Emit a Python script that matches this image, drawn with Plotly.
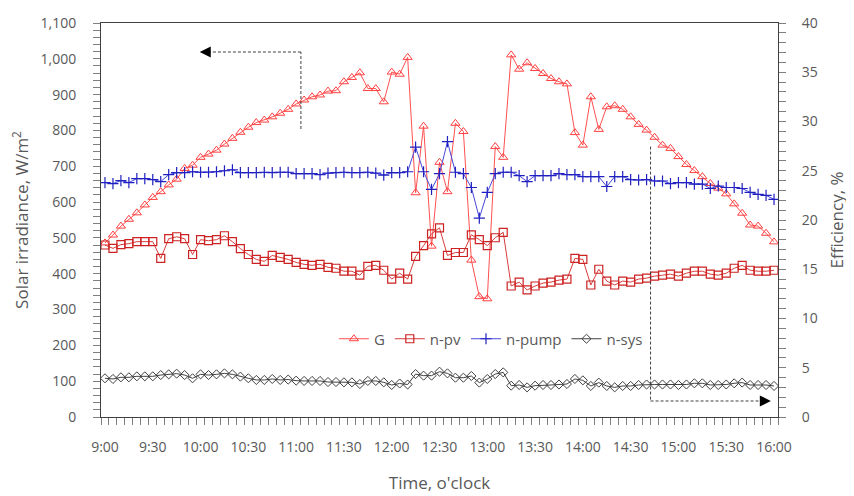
import plotly.graph_objects as go

# 5-minute categories from 9:00 to 16:00
times = [f"{9 + m // 60}:{m % 60:02d}" for m in range(0, 425, 5)]
label_times = ["9:00", "9:30", "10:00", "10:30", "11:00", "11:30", "12:00", "12:30",
               "13:00", "13:30", "14:00", "14:30", "15:00", "15:30", "16:00"]

G = [486, 508, 533, 552, 570, 592, 613, 629, 648, 664, 694, 703, 725, 734, 745, 762, 778,
     795, 809, 822, 829, 838, 848, 859, 874, 885, 894, 899, 910, 911, 936, 948, 961, 917,
     917, 880, 963, 957, 1004, 626, 812, 477, 711, 629, 820, 797, 438, 336, 330, 755, 725,
     1011, 971, 989, 973, 959, 945, 936, 930, 794, 759, 894, 803, 866, 869, 859, 838, 817,
     801, 781, 759, 750, 727, 705, 688, 671, 652, 639, 623, 595, 569, 536, 533, 513, 489]

n_pv = [17.46, 17.12, 17.5, 17.6, 17.8, 17.8, 17.8, 16.1, 18.1, 18.3,
        18.1, 16.5, 18.0, 17.9, 18.0, 18.4, 17.8, 17.1, 16.5, 16.0,
        15.8, 16.4, 16.2, 16.0, 15.7, 15.5, 15.4, 15.5, 15.2, 15.1,
        14.8, 14.8, 14.4, 15.3, 15.4, 14.9, 14.0, 14.6, 14.0, 16.3,
        17.4, 18.6, 19.2, 16.4, 16.7, 16.7, 18.5, 18.0, 17.4, 18.2,
        18.75, 13.3, 13.7, 12.9, 13.3, 13.6, 13.7, 13.9, 14.0, 16.1,
        16.0, 13.4, 15.0, 13.8, 13.4, 13.8, 13.7, 14.0, 14.1, 14.3,
        14.4, 14.5, 14.3, 14.6, 14.8, 14.8, 14.5, 14.4, 14.6, 15.1,
        15.4, 14.9, 14.8, 14.8, 14.9]

n_pump = [23.8, 23.7, 24.0, 23.8, 24.2, 24.2, 24.1, 23.9, 24.6, 24.8,
          24.8, 24.9, 24.85, 24.85, 24.9, 25.0, 25.1, 24.8, 24.8, 24.8,
          24.85, 24.8, 24.85, 24.85, 24.7, 24.7, 24.7, 24.6, 24.75, 24.8,
          24.85, 24.8, 24.8, 24.85, 24.75, 24.55, 24.8, 24.8, 24.9, 27.4,
          24.9, 23.1, 24.7, 27.95, 24.85, 24.7, 23.3, 20.2, 22.8, 24.7,
          24.85, 24.85, 24.5, 23.9, 24.5, 24.5, 24.5, 24.7, 24.6, 24.6,
          24.4, 24.4, 24.4, 23.4, 24.4, 24.4, 24.1, 24.06, 24.1, 23.96,
          23.96, 23.7, 23.8, 23.8, 23.65, 23.65, 23.2, 23.45, 23.3, 23.3,
          23.2, 22.8, 22.6, 22.5, 22.1]

n_sys = [3.93, 3.86, 4.03, 4.03, 4.13, 4.13, 4.13, 4.26, 4.33, 4.4,
         4.26, 3.93, 4.33, 4.26, 4.33, 4.43, 4.33, 4.1, 3.93, 3.76,
         3.76, 3.86, 3.76, 3.8, 3.69, 3.66, 3.66, 3.66, 3.55, 3.55,
         3.52, 3.52, 3.35, 3.66, 3.66, 3.52, 3.25, 3.4, 3.3, 4.36,
         4.2, 4.2, 4.6, 4.43, 3.99, 3.99, 4.16, 3.49, 3.86, 4.36,
         4.53, 3.18, 3.25, 3.01, 3.18, 3.25, 3.25, 3.3, 3.35, 3.86,
         3.72, 3.15, 3.49, 3.15, 3.01, 3.15, 3.15, 3.25, 3.3, 3.3,
         3.3, 3.3, 3.25, 3.3, 3.42, 3.42, 3.25, 3.25, 3.3, 3.42,
         3.49, 3.25, 3.25, 3.25, 3.15]

FONT = "Open Sans, Noto Sans, sans-serif"
TXT = "#595959"
AX = "#404040"
TICK = "#7f7f7f"

fig = go.Figure()
fig.add_trace(go.Scatter(x=times, y=G, name="G", mode="lines+markers", yaxis="y",
                         line=dict(color="#FF5050", width=1),
                         marker=dict(symbol="triangle-up-open", size=8, color="#FF4040",
                                     line=dict(width=1))))
fig.add_trace(go.Scatter(x=times, y=n_pv, name="n-pv", mode="lines+markers", yaxis="y2",
                         line=dict(color="#D83C3C", width=1),
                         marker=dict(symbol="square-open", size=8, color="#CC2222",
                                     line=dict(width=1.2))))
fig.add_trace(go.Scatter(x=times, y=n_pump, name="n-pump", mode="lines+markers", yaxis="y2",
                         line=dict(color="#4848D8", width=1),
                         marker=dict(symbol="cross-thin-open", size=8, color="#2020C0",
                                     line=dict(width=1.2, color="#2020C0"))))
fig.add_trace(go.Scatter(x=times, y=n_sys, name="n-sys", mode="lines+markers", yaxis="y2",
                         line=dict(color="#404040", width=1),
                         marker=dict(symbol="diamond-open", size=7, color="#404040",
                                     line=dict(width=1))))

ticktext = [t if t in label_times else "" for t in times]

fig.update_layout(
    width=846, height=488,
    margin=dict(l=93, r=76, t=15, b=79, autoexpand=False),
    paper_bgcolor="white", plot_bgcolor="white",
    font=dict(family=FONT, size=14, color=TXT),
    showlegend=True,
    legend=dict(orientation="h", x=0.344, y=0.198, xanchor="left", yanchor="middle",
                bgcolor="rgba(0,0,0,0)", font=dict(size=15, color=TXT),
                itemwidth=30, tracegroupgap=0),
    xaxis=dict(type="category", range=[-0.5, 84.5], tickmode="array",
               tickvals=times, ticktext=ticktext, tickson="boundaries",
               ticks="outside", ticklen=7, tickcolor=TICK,
               ticklabelstandoff=17, automargin=False,
               showline=True, linecolor=AX, linewidth=1, mirror=True,
               showgrid=False, zeroline=False, tickangle=0,
               title=dict(text="Time, o'clock", standoff=22, font=dict(size=17, color=TXT))),
    yaxis=dict(range=[0, 1100], dtick=100, tick0=0, tickformat=",d",
               ticks="outside", ticklen=7, tickcolor=TICK, automargin=False,
               ticklabelstandoff=14,
               minor=dict(dtick=20, tick0=0, ticks="outside", ticklen=7, tickcolor=TICK),
               showline=True, linecolor=AX, linewidth=1,
               showgrid=False, zeroline=False,
               title=dict(text="Solar irradiance, W/m<sup>2</sup>", standoff=10,
                          font=dict(size=17, color=TXT))),
    yaxis2=dict(range=[0, 40], dtick=5, tick0=0, overlaying="y", side="right",
                ticks="outside", ticklen=7, tickcolor=TICK, automargin=False,
                ticklabelstandoff=13,
                minor=dict(dtick=1, tick0=0, ticks="outside", ticklen=7, tickcolor=TICK),
                showline=True, linecolor=AX, linewidth=1,
                showgrid=False, zeroline=False,
                title=dict(text="Efficiency, %", standoff=14, font=dict(size=17, color=TXT))),
)

DASH = "3px,2px"
# left-pointing dashed arrow (towards G axis)
fig.add_shape(type="line", xref="x", yref="y", x0=24.6, x1=24.6, y0=804, y1=1019,
              line=dict(color=AX, width=1, dash=DASH))
fig.add_shape(type="line", xref="x", yref="y", x0=24.6, x1=12.6, y0=1019, y1=1019,
              line=dict(color=AX, width=1, dash=DASH))
fig.add_annotation(x=11.9, y=1019, xref="x", yref="y", text="", showarrow=True,
                   ax=9, ay=0, arrowhead=2, arrowsize=2.2, arrowwidth=1, arrowcolor="#000000")
# right-pointing dashed arrow (towards efficiency axis)
fig.add_shape(type="line", xref="x", yref="y", x0=68.5, x1=68.5, y0=755, y1=44.7,
              line=dict(color=AX, width=1, dash=DASH))
fig.add_shape(type="line", xref="x", yref="y", x0=68.5, x1=82.6, y0=44.7, y1=44.7,
              line=dict(color=AX, width=1, dash=DASH))
fig.add_annotation(x=83.6, y=44.7, xref="x", yref="y", text="", showarrow=True,
                   ax=-9, ay=0, arrowhead=2, arrowsize=2.2, arrowwidth=1, arrowcolor="#000000")

fig.write_html("out.html")
